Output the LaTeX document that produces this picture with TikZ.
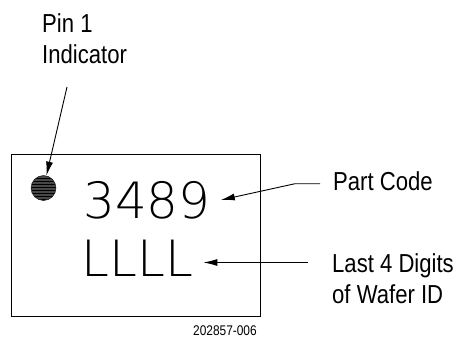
\documentclass[tikz,border=0pt]{standalone}
\usepackage{fontspec}
\setmainfont{Liberation Sans}[FakeStretch=0.85]
\IfFontExistsTF{DejaVuSans-ExtraLight.ttf}
  {\newfontfamily\cadfont{DejaVuSans-ExtraLight.ttf}}
  {\IfFontExistsTF{DejaVu Sans ExtraLight}
    {\newfontfamily\cadfont{DejaVu Sans ExtraLight}}
    {\newfontfamily\cadfont{DejaVu Sans}}}
\usetikzlibrary{arrows.meta,calc,patterns}

\tikzset{
  callout/.style={font=\fontsize{26}{31}\selectfont, inner sep=0pt, align=left},
  marking/.style={font=\cadfont\fontsize{50}{50}\selectfont, inner xsep=10pt, inner ysep=0pt},
  pointer/.style={-{Latex[length=14pt,width=7pt]}, line width=0.9pt},
}

\begin{document}
\begin{tikzpicture}[x=1pt,y=1pt]
  \useasboundingbox (0,0) rectangle (457,341);

  % Package outline
  \draw[line width=0.9pt] (11,25) rectangle (260,187);

  % Pin 1 dot
  \node[circle, fill=black!72, draw=black, minimum size=25pt, inner sep=0pt] (dot) at (43.5,153) {};
  \fill[pattern=horizontal lines, pattern color=black] (dot.center) circle (12pt);

  % Top side marking
  \node[marking] (code) at (147,141) {3489};
  \node[marking] (lot) at (137.5,82.5) {LLLL};

  % Callout texts
  \node[callout, anchor=north west] (pinlabel) at (42,328) {Pin 1\\Indicator};
  \node[callout, anchor=base west] (partlabel) at (333,151) {Part Code};
  \node[callout, anchor=north west] (waferlabel) at (332,88) {Last 4 Digits\\of Wafer ID};
  \node[font=\fontsize{14}{14}\selectfont, inner sep=0pt, anchor=base west] (drawno) at (193,6) {202857-006};

  % Leader arrows
  \coordinate (pintail) at (67,254);
  \draw[pointer] (pintail) -- (dot);
  \draw[pointer] ($(partlabel.west)+(-13,-3)$) -- ++(-25,0) -- (code.east);
  \draw[pointer] ($(waferlabel.west |- lot.east)+(-24,-4)$) -- ([yshift=-4pt]lot.east);
\end{tikzpicture}
\end{document}
